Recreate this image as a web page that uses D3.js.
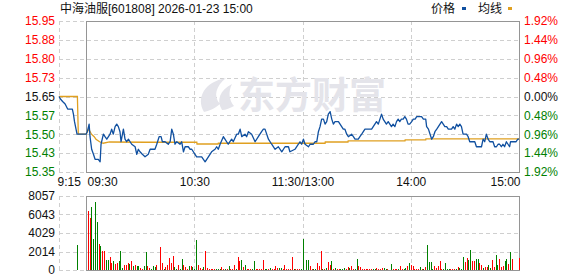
<!DOCTYPE html>
<html>
<head>
<meta charset="utf-8">
<script src="https://cdn.jsdelivr.net/npm/d3@7"></script>
<style>
  body { margin: 0; background: #fff; }
  svg { display: block; font-family: "Liberation Sans", "Noto Sans CJK SC", sans-serif; }
</style>
</head>
<body>
<svg id="chart" width="578" height="276"></svg>
<script>
// ---- data ----
const stockName = "中海油服[601808]";
const stamp = "2026-01-23 15:00";
const prevClose = 15.65;
const pctTicks = [1.92, 1.44, 0.96, 0.48, 0, -0.48, -0.96, -1.44, -1.92];
const priceLabels = ["15.95", "15.88", "15.80", "15.73", "15.65", "15.57", "15.50", "15.43", "15.35"];
const pctLabels = ["1.92%", "1.44%", "0.96%", "0.48%", "0.00%", "0.48%", "0.96%", "1.44%", "1.92%"];

// minutes from 09:30 (negative = pre-open call auction), lunch break folded out
const timeTicks = [-15, 0, 60, 120, 180, 240];
const timeLabels = ["9:15", "09:30", "10:30", "11:30/13:00", "14:00", "15:00"];

const volTicks = [0, 2014, 4029, 6043, 8057];

// price line: [minute, price]
const pricePts = [
  [-15, 15.65], [-14.2, 15.64], [-13, 15.63], [-11.6, 15.62], [-10.2, 15.60], [-7.6, 15.60],
  [-7, 15.58], [-6.4, 15.55], [-5, 15.50], [0, 15.50],
  [0.7, 15.51], [1.7, 15.54], [2.2, 15.49], [3.1, 15.44], [4.1, 15.42], [5, 15.40], [5.9, 15.40],
  [6.8, 15.40], [7.8, 15.39], [8.3, 15.46], [9.6, 15.50], [10.5, 15.49], [11.5, 15.48], [12.4, 15.49],
  [13.3, 15.50], [14.2, 15.52], [15.1, 15.50], [16.1, 15.53], [17, 15.54], [17.9, 15.53], [18.8, 15.51],
  [19.4, 15.47], [20.7, 15.52], [21.6, 15.48], [22.5, 15.47], [23.5, 15.48], [24.4, 15.47], [25.3, 15.46],
  [27.2, 15.45], [28.1, 15.42], [29, 15.44], [29.9, 15.43], [31.2, 15.42], [32.7, 15.41], [34.5, 15.42],
  [35.5, 15.44], [36.4, 15.44], [37.3, 15.44], [38.2, 15.44], [39.2, 15.46], [40.5, 15.49], [41.6, 15.49],
  [42.3, 15.47], [43.8, 15.47], [45.6, 15.46], [46.6, 15.47], [47.5, 15.52], [48.4, 15.50], [49.3, 15.46],
  [50.3, 15.47], [52.1, 15.46], [53, 15.47], [54, 15.43], [54.9, 15.45], [56.7, 15.45], [57.7, 15.44],
  [58.6, 15.44], [60.4, 15.42], [61.3, 15.41], [64.1, 15.41], [66, 15.39], [67.8, 15.41], [69.6, 15.43],
  [71.5, 15.44], [72.4, 15.45], [73.3, 15.44], [74.3, 15.46], [76.1, 15.49], [77, 15.48], [78.8, 15.46],
  [80.7, 15.48], [81.6, 15.47], [83.5, 15.50], [84.4, 15.50], [85.4, 15.52], [86.3, 15.49], [88.1, 15.50],
  [89, 15.49], [90, 15.51], [91.8, 15.50], [93.7, 15.47], [95.5, 15.49], [97.3, 15.51], [98.3, 15.52],
  [99.2, 15.52], [101.1, 15.48], [102.9, 15.46], [104.8, 15.44], [106.6, 15.45], [108.5, 15.43],
  [110.3, 15.45], [112.2, 15.45], [113, 15.43], [115.8, 15.44], [117.7, 15.46], [118.6, 15.47],
  [119.5, 15.46], [120.5, 15.48], [121.4, 15.46], [123.3, 15.45], [124.2, 15.46], [126, 15.46],
  [126.9, 15.47], [127.9, 15.47], [128.8, 15.51], [129.7, 15.53], [130.6, 15.56], [131.6, 15.56],
  [132.5, 15.54], [133.4, 15.55], [134.3, 15.58], [135.3, 15.59], [136.2, 15.56], [137.1, 15.54],
  [138, 15.55], [139.9, 15.55], [140.8, 15.54], [141.7, 15.53], [142.6, 15.52], [143.5, 15.52],
  [144.5, 15.50], [145.4, 15.49], [147.2, 15.50], [148.2, 15.49], [149.1, 15.48], [150, 15.48],
  [150.9, 15.48], [151.8, 15.49], [152.8, 15.50], [153.7, 15.51], [154.6, 15.52], [156.4, 15.52],
  [157.4, 15.52], [158.3, 15.52], [159.2, 15.53], [160.1, 15.54], [161, 15.55], [162, 15.54],
  [162.9, 15.56], [163.8, 15.58], [164.7, 15.56], [165.6, 15.55], [166.5, 15.54], [167.5, 15.55],
  [168.4, 15.54], [169.3, 15.53], [170.2, 15.54], [171.2, 15.53], [172.1, 15.55], [173, 15.56],
  [173.9, 15.55], [174.8, 15.56], [175.8, 15.56], [176.7, 15.57], [177.6, 15.56], [178.5, 15.54],
  [179.4, 15.54], [180.5, 15.55], [181.4, 15.56], [182.4, 15.56], [183.3, 15.57], [185.1, 15.57],
  [186, 15.57], [187, 15.56], [188.3, 15.56], [188.8, 15.53], [189.8, 15.52], [190.7, 15.50],
  [191.6, 15.48], [192.5, 15.49], [193.4, 15.51], [194.4, 15.52], [195.3, 15.53], [196.2, 15.54],
  [197.1, 15.55], [198, 15.54], [198.9, 15.53], [199.9, 15.53], [200.8, 15.52], [201.7, 15.52],
  [202.6, 15.52], [203.5, 15.53], [204.4, 15.52], [205.4, 15.54], [206.3, 15.53], [207.2, 15.54],
  [208.1, 15.53], [209, 15.50], [210, 15.50], [210.9, 15.50], [211.8, 15.49], [212.7, 15.47],
  [213.6, 15.47], [215.5, 15.47], [216.4, 15.45], [217.3, 15.45], [219.2, 15.45], [220.1, 15.48],
  [221, 15.47], [221.9, 15.50], [222.9, 15.48], [223.8, 15.47], [225.6, 15.47], [226.5, 15.45],
  [227.5, 15.45], [228.4, 15.46], [229.3, 15.46], [230.2, 15.45], [231.1, 15.46], [232, 15.45],
  [233, 15.47], [233.9, 15.46], [234.8, 15.45], [235.3, 15.47], [236.6, 15.47], [238.4, 15.47],
  [239.3, 15.48], [240, 15.48]
];

// average price line: [minute, price]
const avgPts = [
  [-15, 15.65], [-4.8, 15.65], [-4.3, 15.50], [0, 15.50], [1.5, 15.52], [3, 15.50], [4.5, 15.49],
  [5.5, 15.48], [7.5, 15.47], [9.5, 15.464], [13, 15.469], [33, 15.468], [61.4, 15.468],
  [61.5, 15.461], [73.2, 15.461], [73.3, 15.464], [132.5, 15.464], [132.6, 15.469], [145.2, 15.469],
  [145.3, 15.473], [176.8, 15.473], [176.9, 15.477], [188.3, 15.477], [188.4, 15.481], [240, 15.481]
];

// volume: [minute, lots, direction] (1 = up / red, -1 = down / green)
const volBars = [
  [-5, 2722, -1],
  [1, 6461, 1], [2, 5700, 1], [3, 6860, -1], [4, 3412, -1], [5, 7440, -1], [6, 5263, -1], [7, 2831, 1],
  [8, 2650, -1], [9, 2069, 1], [10, 2069, 1], [11, 1089, -1], [12, 1089, -1], [13, 1452, 1], [14, 726, 1],
  [15, 980, -1], [16, 690, 1], [17, 762, 1], [18, 980, -1], [19, 2069, -1], [20, 180, -1], [21, 545, 1],
  [22, 545, 1], [23, 762, 1], [24, 653, -1], [25, 980, 1], [26, 435, -1], [27, 545, 1], [28, 435, -1],
  [29, 435, -1], [30, 254, 1], [31, 145, 1], [32, 435, -1], [33, 1960, -1], [34, 435, 1], [35, 254, 1],
  [36, 109, -1], [37, 435, -1], [38, 327, -1], [39, 580, 1], [41, 2504, 1], [42, 762, 1], [43, 145, -1],
  [44, 290, 1], [45, 545, 1], [46, 1307, 1], [47, 762, 1], [48, 1525, 1], [49, 327, -1], [50, 145, -1],
  [51, 545, 1], [52, 145, -1], [53, 1198, -1], [54, 545, 1], [55, 327, 1], [56, 109, 1],
  [57, 435, -1], [58, 435, 1], [59, 327, -1], [60, 145, -1], [61, 3267, -1], [62, 545, 1], [63, 218, 1],
  [64, 109, 1], [65, 327, -1], [66, 2069, 1], [67, 218, 1], [68, 145, 1], [69, 109, 1], [70, 109, 1],
  [71, 109, 1], [72, 109, -1], [73, 109, -1], [74, 109, -1], [75, 327, 1], [76, 109, 1], [77, 109, -1],
  [78, 109, 1], [79, 435, -1], [80, 109, 1], [81, 109, 1], [82, 545, 1], [83, 109, -1], [84, 1416, 1],
  [85, 980, 1], [86, 1089, -1], [87, 327, 1], [88, 545, -1], [89, 109, 1], [90, 109, 1], [91, 109, 1],
  [92, 109, -1], [93, 980, -1], [94, 109, 1], [95, 109, 1], [96, 109, 1], [97, 109, 1], [98, 1089, 1],
  [99, 109, -1], [100, 109, -1], [101, 109, 1], [102, 218, -1], [103, 109, 1], [104, 109, 1],
  [105, 435, 1], [106, 218, 1], [107, 218, -1], [108, 218, -1], [109, 109, 1], [110, 545, 1],
  [111, 109, 1], [112, 109, 1], [113, 109, 1], [114, 1416, 1], [115, 109, -1], [116, 109, 1],
  [117, 109, 1], [118, 109, 1], [119, 109, -1], [120, 3412, -1],
  [122, 1089, -1], [123, 1089, -1], [124, 435, 1], [125, 109, 1], [126, 109, -1], [127, 109, -1],
  [128, 762, 1], [129, 435, 1], [130, 2069, 1], [131, 109, -1], [132, 109, 1], [133, 218, -1],
  [134, 871, 1], [135, 545, 1], [136, 980, -1], [137, 109, 1], [138, 218, -1], [139, 109, 1],
  [140, 109, 1], [141, 109, -1], [142, 109, -1], [143, 218, -1], [144, 109, 1], [145, 327, 1],
  [146, 218, -1], [147, 435, 1], [148, 109, 1], [149, 109, -1], [150, 1198, -1], [151, 435, 1],
  [152, 327, 1], [153, 109, 1], [154, 109, 1], [155, 109, 1], [156, 109, 1], [157, 109, 1],
  [158, 109, 1], [159, 109, -1], [160, 109, -1], [161, 218, 1], [162, 109, 1], [163, 109, 1],
  [164, 218, 1], [165, 218, -1], [166, 109, -1], [167, 109, 1], [169, 653, -1], [170, 109, 1],
  [171, 109, 1], [172, 109, 1], [173, 109, -1], [174, 435, 1], [175, 109, 1], [176, 109, -1],
  [177, 218, -1], [178, 435, 1], [179, 762, -1], [180, 545, 1], [181, 435, 1], [182, 109, 1],
  [183, 109, 1], [184, 109, 1], [185, 327, -1], [186, 109, 1], [187, 109, -1], [188, 327, 1],
  [189, 2722, -1], [190, 871, -1], [191, 871, -1], [192, 109, -1], [193, 435, 1], [194, 218, 1],
  [195, 435, 1], [196, 980, 1], [197, 109, 1], [198, 109, -1], [199, 762, -1], [200, 109, -1],
  [201, 109, -1], [202, 109, 1], [203, 109, 1], [204, 109, 1], [205, 109, -1], [206, 327, 1],
  [207, 218, -1], [208, 109, -1], [209, 1416, -1], [210, 871, 1], [211, 1307, 1], [212, 1089, -1],
  [213, 2178, -1], [214, 980, 1], [215, 980, 1], [216, 1198, -1], [217, 1198, -1], [218, 762, 1],
  [219, 545, 1], [220, 218, -1], [221, 327, 1], [222, 327, 1], [223, 545, -1], [224, 218, -1],
  [225, 1089, 1], [226, 327, 1], [227, 1634, -1], [228, 545, -1], [229, 1198, 1], [230, 327, 1],
  [231, 435, 1], [232, 980, -1], [233, 1198, -1], [234, 653, 1], [235, 1960, -1], [236, 1198, 1],
  [240, 1307, 1]
];

// ---- layout ----
const RED = "#ff0000", GREEN = "#008000", DARK = "#111";
const BLUE = "#1050a0", GOLD = "#e0a020";
const left = 59, open = 86, right = 519;
const pTop = 21, pBot = 172, vTop = 196, vBot = 270;

const svg = d3.select("#chart");

const x = d3.scaleLinear().domain([-15, 240]).range([left, right]);
const y = d3.scaleLinear()
  .domain([prevClose * (1 - 1.92 / 100), prevClose * (1 + 1.92 / 100)])
  .range([pBot, pTop]);
const yv = d3.scaleLinear().domain([0, volTicks[volTicks.length - 1]]).range([vBot, vTop]);

const tickPrices = pctTicks.map(p => prevClose * (1 + p / 100));
const tickColor = i => (pctTicks[i] > 0 ? RED : pctTicks[i] < 0 ? GREEN : DARK);

// grid (dashed)
const grid = svg.append("g")
  .attr("stroke", "#cfcfcf").attr("stroke-dasharray", "4,3")
  .attr("shape-rendering", "crispEdges");

grid.selectAll(".hp").data(tickPrices).join("line")
  .attr("x1", left).attr("x2", right)
  .attr("y1", d => Math.round(y(d)) + 0.5).attr("y2", d => Math.round(y(d)) + 0.5);
grid.selectAll(".hv").data(volTicks).join("line")
  .attr("x1", left).attr("x2", right)
  .attr("y1", d => Math.round(yv(d)) + 0.5).attr("y2", d => Math.round(yv(d)) + 0.5);
[-15, 60, 120, 180].forEach(m => {
  const gx = Math.round(x(m)) + 0.5;
  grid.append("line").attr("x1", gx).attr("x2", gx).attr("y1", pTop).attr("y2", pBot);
  grid.append("line").attr("x1", gx).attr("x2", gx).attr("y1", vTop).attr("y2", vBot);
});

// watermark
const wm = svg.append("g").attr("fill", "#e4e4ea");
wm.append("path")
  .attr("d", "M204,112 C196,98 204,82 226,78 C216,86 213,96 220,104 C214,109 209,111 204,112 Z M222,110 C216,100 220,90 232,84 C228,92 229,100 234,106 C230,108 226,110 222,110 Z");
wm.append("text")
  .attr("x", 238).attr("y", 109)
  .attr("font-size", 37).attr("font-weight", "bold")
  .attr("font-family", "Noto Sans CJK SC")
  .text("东方财富");

// borders
svg.append("g").attr("fill", "none").attr("stroke", "#959595").attr("shape-rendering", "crispEdges")
  .selectAll("rect").data([[pTop, pBot], [vTop, vBot]]).join("rect")
  .attr("x", open + 0.5).attr("y", d => d[0] + 0.5)
  .attr("width", right - open).attr("height", d => d[1] - d[0]);

// volume bars
svg.append("g").attr("shape-rendering", "crispEdges")
  .selectAll("rect").data(volBars).join("rect")
  .attr("x", d => Math.round(x(d[0])))
  .attr("width", 1)
  .attr("y", d => yv(d[1]))
  .attr("height", d => vBot - yv(d[1]))
  .attr("fill", d => (d[2] > 0 ? RED : GREEN));

// lines
const line = d3.line().x(d => x(d[0])).y(d => y(d[1]));
svg.append("path").datum(avgPts).attr("d", line)
  .attr("fill", "none").attr("stroke", GOLD).attr("stroke-width", 1.3);
svg.append("path").datum(pricePts).attr("d", line)
  .attr("fill", "none").attr("stroke", BLUE).attr("stroke-width", 1.3).attr("stroke-linejoin", "round");

// axes
const styleAxis = g => {
  g.select(".domain").remove();
  g.selectAll("text").attr("font-size", 12).attr("font-family", "Liberation Sans");
};

svg.append("g").attr("transform", `translate(${left - 1},0)`)
  .call(d3.axisLeft(y).tickValues(tickPrices).tickFormat((d, i) => priceLabels[i]).tickSize(0).tickPadding(3))
  .call(styleAxis)
  .selectAll("text").attr("fill", (d, i) => tickColor(i));

svg.append("g").attr("transform", `translate(${right},0)`)
  .call(d3.axisRight(y).tickValues(tickPrices).tickFormat((d, i) => pctLabels[i]).tickSize(0).tickPadding(5))
  .call(styleAxis)
  .selectAll("text").attr("fill", (d, i) => tickColor(i));

svg.append("g").attr("transform", `translate(${left - 1},0)`)
  .call(d3.axisLeft(yv).tickValues(volTicks).tickFormat(d3.format("d")).tickSize(0).tickPadding(3))
  .call(styleAxis)
  .selectAll("text").attr("fill", DARK);

const xa = svg.append("g").attr("transform", `translate(0,${pBot})`)
  .call(d3.axisBottom(x).tickValues(timeTicks).tickFormat((d, i) => timeLabels[i]).tickSize(0).tickPadding(5))
  .call(styleAxis);
xa.selectAll("text").attr("fill", DARK)
  .attr("text-anchor", (d, i) => (i < 2 ? "start" : i === timeTicks.length - 1 ? "end" : "middle"))
  .attr("dx", (d, i) => (i === 0 ? -2 : i === 1 ? 1 : i === timeTicks.length - 1 ? 1 : 0));

// title + legend
svg.append("text").attr("x", 60).attr("y", 13).attr("font-size", 12).attr("fill", DARK)
  .text(stockName + " " + stamp);

const legend = svg.append("g").attr("font-size", 12).attr("fill", DARK);
legend.append("text").attr("x", 431).attr("y", 13).text("价格");
legend.append("rect").attr("x", 462).attr("y", 7).attr("width", 4).attr("height", 3).attr("fill", BLUE);
legend.append("text").attr("x", 478).attr("y", 13).text("均线");
legend.append("rect").attr("x", 508).attr("y", 7).attr("width", 4).attr("height", 3).attr("fill", GOLD);
</script>
</body>
</html>
